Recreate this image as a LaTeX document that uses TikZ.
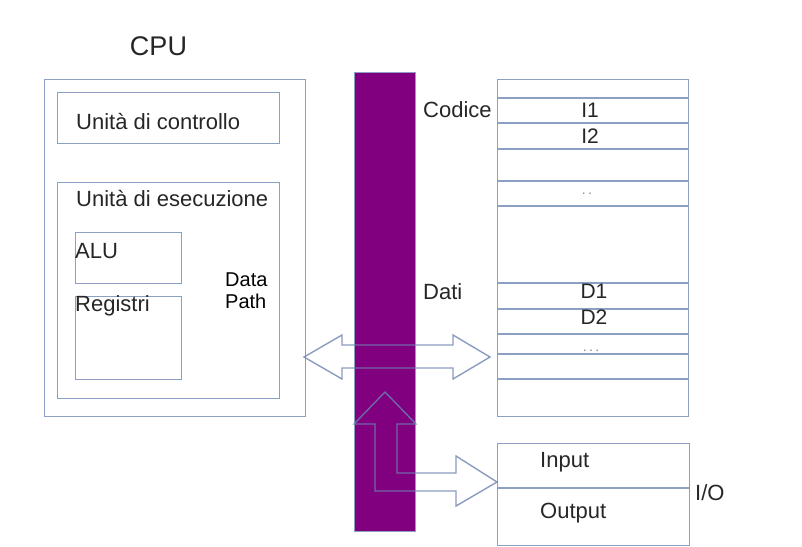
\documentclass[tikz,border=0pt]{standalone}
\usepackage{fontspec}
\setmainfont{Liberation Sans}
\usetikzlibrary{positioning}
\definecolor{CLine}{HTML}{8CA0C4}
\definecolor{CArrow}{HTML}{6E82B0}
\definecolor{CBus}{HTML}{800080}
\definecolor{CText}{HTML}{262626}
\definecolor{CDots}{HTML}{8A8A8A}

\tikzset{
  box/.style={draw=CLine, line width=1.4pt, inner sep=0pt, anchor=north west},
  lbl/.style={CText, inner sep=0pt, anchor=base west, font=\fontsize{22}{24}\selectfont},
  cell/.style={CText, inner sep=0pt, anchor=base, font=\fontsize{21}{24}\selectfont},
  blockarrow/.style={draw=CArrow, draw opacity=0.8, line width=1.4pt, line join=miter},
}

\begin{document}
\begin{tikzpicture}[x=1pt, y=-1pt]
    \useasboundingbox (0,0) rectangle (802,546);

    % --- CPU ---
    \node[lbl, anchor=base, font=\fontsize{27}{30}\selectfont] (LblCPU) at (158.5,55) {CPU};
    \node[box, minimum width=261pt, minimum height=337pt] (CPU) at (44,79) {};
    \node[box, minimum width=222pt, minimum height=51pt] (Control) at (57,92) {};
    \node[lbl] (LblControl) at (76,129) {Unità di controllo};
    \node[box, minimum width=222pt, minimum height=216pt] (Exec) at (57,182) {};
    \node[lbl] (LblExec) at (76,206) {Unità di esecuzione};
    \node[box, minimum width=106pt, minimum height=51pt] (ALU) at (75,232) {};
    \node[lbl] (LblALU) at (75,258) {ALU};
    \node[box, minimum width=106pt, minimum height=83pt] (Reg) at (75,296) {};
    \node[lbl] (LblReg) at (75,311) {Registri};
    % Data path label
    \node[lbl, text=black, font=\fontsize{20}{22}\selectfont] (LblData) at (225,286) {Data};
    \node[lbl, text=black, font=\fontsize{20}{22}\selectfont] (LblPath) at (225,308) {Path};

    % --- Bus ---
    \node[box, fill=CBus, line width=0.6pt, minimum width=61pt, minimum height=459pt] (Bus) at (354,72) {};

    % --- Memory ---
    \node[box, minimum width=191pt, minimum height=337pt] (Mem) at (497,79) {};
    \foreach \y in {98,123,149,181,206,283,309,334,354,379} {
        \draw[CLine, line width=1.4pt] (Mem.west |- 0,\y) -- (Mem.east |- 0,\y);
    }
    \node[lbl] (LblCode) at (423,117) {Codice};
    \node[lbl] (LblData2) at (423,299) {Dati};
    \node[cell] (I1) at (590,117) {I1};
    \node[cell] (I2) at (590,143) {I2};
    \node[cell, CDots, font=\fontsize{14}{16}\selectfont] (Dots1) at (587,194) {.\,.};
    \node[cell] (D1) at (594,298) {D1};
    \node[cell] (D2) at (594,324) {D2};
    \node[cell, CDots, font=\fontsize{14}{16}\selectfont] (Dots2) at (591,351) {.\,.\,.};

    % --- I/O ---
    \node[box, minimum width=192pt, minimum height=102pt] (IO) at (497,443) {};
    \draw[CLine, line width=1.4pt] (IO.west |- 0,488) -- (IO.east |- 0,488);
    \node[lbl] (LblIn) at (540,467) {Input};
    \node[lbl] (LblOut) at (540,518) {Output};
    \node[lbl] (LblIO) at (695,500) {I/O};

    % --- Block arrows ---
    % CPU <-> memory
    \coordinate (TipL) at (304,357);
    \coordinate (TipR) at (490,357);
    \draw[blockarrow] (TipL) -- (342,335) -- (342,345) -- (453,345) -- (453,335) -- (TipR)
        -- (453,379) -- (453,368) -- (342,368) -- (342,379) -- cycle;
    % bus <-> I/O
    \coordinate (TipUp) at (385,392);
    \coordinate (TipIO) at (497,482);
    \draw[blockarrow] (354,424) -- (TipUp) -- (416,424) -- (397,424) -- (397,473) -- (456,473)
        -- (456,456) -- (TipIO) -- (456,506) -- (456,491) -- (375,491) -- (375,424) -- cycle;

\end{tikzpicture}
\end{document}
